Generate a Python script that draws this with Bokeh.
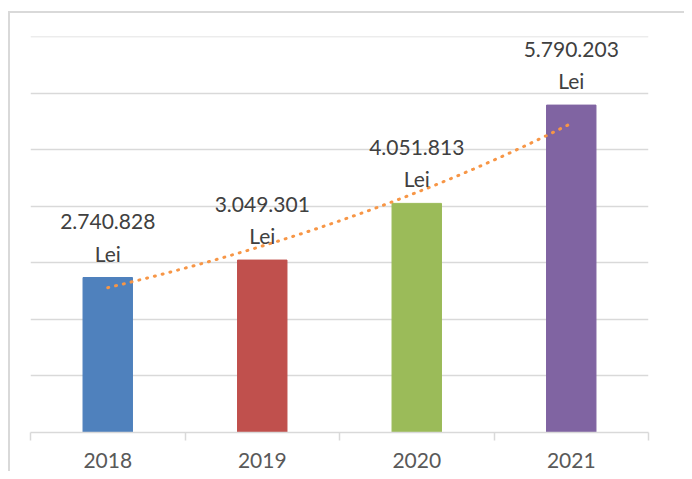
import numpy as np
from bokeh.plotting import figure
from bokeh.models import FixedTicker, ColumnDataSource
from bokeh.core.properties import value
from bokeh.embed import file_html
from bokeh.resources import INLINE

years = ["2018", "2019", "2020", "2021"]
amounts = [2740828, 3049301, 4051813, 5790203]
colors = ["#4F81BD", "#C0504D", "#9BBB59", "#8064A2"]
grid_values = [1000000, 2000000, 3000000, 4000000, 5000000, 6000000, 7000000]

FONT = "Lato"
TXT = "#404040"

xpos = [i + 0.5 for i in range(len(years))]
labels = [f"{v:,}".replace(",", ".") + "\nLei" for v in amounts]

src = ColumnDataSource(dict(x=xpos, top=amounts, color=colors, label=labels))

p = figure(width=684, height=471, output_backend="svg", toolbar_location=None,
           x_range=(0, 4), y_range=(0, 7003000),
           min_border_left=30, min_border_right=36, min_border_top=36, min_border_bottom=39)

# outer chart border (top and left edges), drawn as a CSS background behind a transparent canvas border
p.styles = {
    "background": ("linear-gradient(#D9D9D9,#D9D9D9) 8px 11px / 2px 100% no-repeat, "
                   "linear-gradient(#D9D9D9,#D9D9D9) 8px 11px / 100% 2px no-repeat, white")
}
p.border_fill_alpha = 0
p.background_fill_color = "white"

p.vbar(x="x", top="top", width=0.32, color="color", source=src)

# exponential trendline (fitted from the data)
idx = np.arange(len(amounts))
k, b = np.polyfit(idx, np.log(amounts), 1)
tx = np.linspace(0, len(amounts) - 1, 200)
ty = np.exp(b + k * tx)
p.line(tx + 0.5, ty, line_color="#F79646", line_width=3, line_dash="1 7", line_cap="round")

p.text(x="x", y="top", text="label", source=src, text_align="center", text_baseline="bottom",
       y_offset=-12, text_font=value(FONT), text_font_size="21px", text_color=TXT,
       text_line_height=1.3)

p.yaxis.visible = False
p.ygrid.ticker = FixedTicker(ticks=grid_values)
p.ygrid.grid_line_color = "#D9D9D9"
p.ygrid.grid_line_width = 1.5
p.xgrid.visible = False

p.xaxis.ticker = FixedTicker(ticks=xpos, minor_ticks=[0, 1, 2, 3, 4])
p.xaxis.major_label_overrides = {x: y for x, y in zip(xpos, years)}
p.xaxis.major_tick_out = 0
p.xaxis.major_tick_in = 0
p.xaxis.minor_tick_out = 8
p.xaxis.minor_tick_in = 0
p.xaxis.minor_tick_line_color = "#D9D9D9"
p.xaxis.minor_tick_line_width = 1.5
p.xaxis.axis_line_color = "#D9D9D9"
p.xaxis.axis_line_width = 1.5
p.xaxis.major_label_standoff = 12
p.xaxis.major_label_text_font = FONT
p.xaxis.major_label_text_font_size = "21px"
p.xaxis.major_label_text_color = "#595959"

p.outline_line_color = None

open("out.html", "w").write(file_html(p, INLINE))
